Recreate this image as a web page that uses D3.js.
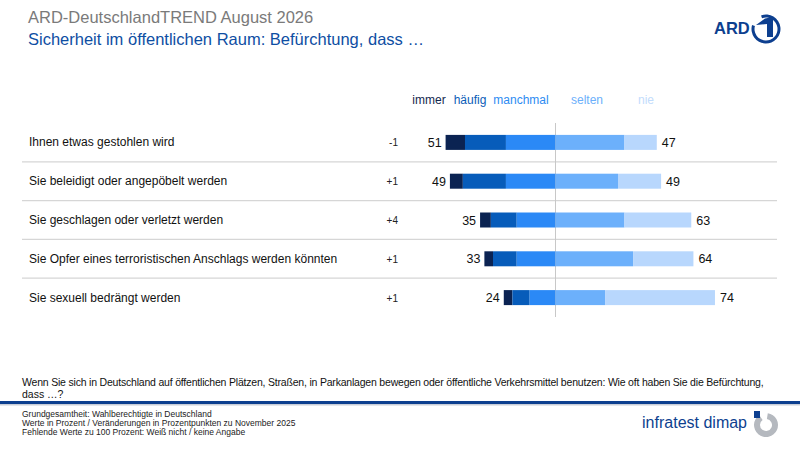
<!DOCTYPE html>
<html>
<head>
<meta charset="utf-8">
<script src="https://cdn.jsdelivr.net/npm/d3@7"></script>
<style>
  body { margin: 0; background: #fff; }
  svg { font-family: "Liberation Sans", Arial, sans-serif; }
</style>
</head>
<body>
<div id="chart"></div>
<script>
const categories = [
    "Ihnen etwas gestohlen wird",
    "Sie beleidigt oder angepöbelt werden",
    "Sie geschlagen oder verletzt werden",
    "Sie Opfer eines terroristischen Anschlags werden könnten",
    "Sie sexuell bedrängt werden"
];
const changes = ["-1", "+1", "+4", "+1", "+1"];
const immer = [9, 6, 5, 4, 4];
const haeufig = [19, 20, 12, 11, 8];
const manchmal = [23, 23, 18, 18, 12];
const selten = [32, 29, 32, 36, 23];
const nie = [15, 20, 31, 28, 51];
const leftTotals = [51, 49, 35, 33, 24];
const rightTotals = [47, 49, 63, 64, 74];
const seriesNames = ["immer", "häufig", "manchmal", "selten", "nie"];

const barColors = ['#0b2352', '#075cba', '#2b89f6', '#6cb0fb', '#b8d7fd'];
const legendColors = ['#14284e', '#0b5db8', '#2d8bf2', '#6cb0fb', '#c2dcfc'];

const svgWidth = 800;
const svgHeight = 450;

const svg = d3.select('#chart')
    .append('svg')
    .attr('width', svgWidth)
    .attr('height', svgHeight);

// scales
const xScale = d3.scaleLinear()
    .domain([-100, 100])
    .range([340, 771]);

const yScale = d3.scaleBand()
    .domain(d3.range(categories.length))
    .range([123, 317]);

const barH = 15;

// title
svg.append('text')
    .attr('x', 28).attr('y', 23)
    .style('font-size', '16.5px')
    .style('fill', '#7a7a7a')
    .text('ARD-DeutschlandTREND August 2026');

svg.append('text')
    .attr('x', 28).attr('y', 45)
    .style('font-size', '16.5px')
    .style('fill', '#0e4ea3')
    .text('Sicherheit im öffentlichen Raum: Befürchtung, dass …');

// ARD logo
const ard = svg.append('g');
ard.append('text')
    .attr('x', 714).attr('y', 34)
    .style('font-size', '16.5px')
    .style('font-weight', 'bold')
    .style('fill', '#0d3f8f')
    .text('ARD');
ard.append('path')
    .attr('d', d3.arc()({innerRadius: 11.5, outerRadius: 14.5, startAngle: -0.35, endAngle: 2 * Math.PI - 1.3}))
    .attr('transform', 'translate(766,29)')
    .attr('fill', '#0d3f8f');
ard.append('path')
    .attr('d', 'M756,25 L765,18.5 L773,17 L773,37 L767,37 L767,24 Z')
    .attr('fill', '#0d3f8f');

// legend
const legendX = [429, 470, 521, 587, 646];
svg.selectAll('.legend')
    .data(seriesNames)
    .enter().append('text')
    .attr('class', 'legend')
    .attr('x', (d, i) => legendX[i])
    .attr('y', 104)
    .attr('text-anchor', 'middle')
    .style('font-size', '12px')
    .style('fill', (d, i) => legendColors[i])
    .text(d => d);

// separators
svg.selectAll('.sep')
    .data(d3.range(1, categories.length))
    .enter().append('line')
    .attr('x1', 22).attr('x2', 777)
    .attr('y1', d => yScale(d)).attr('y2', d => yScale(d))
    .style('stroke', '#d6d6d6')
    .style('stroke-width', 1.3);

// center line
svg.append('line')
    .attr('x1', xScale(0)).attr('x2', xScale(0))
    .attr('y1', yScale.range()[0]).attr('y2', yScale.range()[1])
    .style('stroke', '#c8c8c8')
    .style('stroke-width', 1);

// build stacked segments
const segments = [];
categories.forEach((c, i) => {
    const vals = [immer[i], haeufig[i], manchmal[i], selten[i], nie[i]];
    let start = -(immer[i] + haeufig[i] + manchmal[i]);
    vals.forEach((v, k) => {
        segments.push({ row: i, k: k, x0: start, x1: start + v });
        start += v;
    });
});

svg.selectAll('.seg')
    .data(segments)
    .enter().append('rect')
    .attr('class', 'seg')
    .attr('x', d => xScale(d.x0))
    .attr('y', d => yScale(d.row) + yScale.bandwidth() / 2 - barH / 2)
    .attr('width', d => xScale(d.x1) - xScale(d.x0))
    .attr('height', barH)
    .attr('fill', d => barColors[d.k]);

// category labels
svg.selectAll('.cat')
    .data(categories)
    .enter().append('text')
    .attr('x', 29)
    .attr('y', (d, i) => yScale(i) + yScale.bandwidth() / 2 + 4)
    .style('font-size', '12px')
    .style('fill', '#111')
    .text(d => d);

// changes
svg.selectAll('.chg')
    .data(changes)
    .enter().append('text')
    .attr('x', 398)
    .attr('y', (d, i) => yScale(i) + yScale.bandwidth() / 2 + 4)
    .attr('text-anchor', 'end')
    .style('font-size', '10px')
    .style('fill', '#222')
    .text(d => d);

// totals
svg.selectAll('.lt')
    .data(leftTotals)
    .enter().append('text')
    .attr('x', d => xScale(-d) - 4)
    .attr('y', (d, i) => yScale(i) + yScale.bandwidth() / 2 + 4.5)
    .attr('text-anchor', 'end')
    .style('font-size', '12.5px')
    .style('fill', '#111')
    .text(d => d);

svg.selectAll('.rt')
    .data(rightTotals)
    .enter().append('text')
    .attr('x', d => xScale(d) + 5)
    .attr('y', (d, i) => yScale(i) + yScale.bandwidth() / 2 + 4.5)
    .style('font-size', '12.5px')
    .style('fill', '#111')
    .text(d => d);

// question
svg.append('text')
    .attr('x', 22).attr('y', 386)
    .style('font-size', '10.5px')
    .style('fill', '#111')
    .style('letter-spacing', '-0.2px')
    .text('Wenn Sie sich in Deutschland auf öffentlichen Plätzen, Straßen, in Parkanlagen bewegen oder öffentliche Verkehrsmittel benutzen: Wie oft haben Sie die Befürchtung,');
svg.append('text')
    .attr('x', 22).attr('y', 397.5)
    .style('font-size', '10.5px')
    .style('fill', '#111')
    .text('dass …?');

// footer rules
svg.append('rect')
    .attr('x', 0).attr('y', 401)
    .attr('width', svgWidth).attr('height', 3)
    .attr('fill', '#0d3f8f');
svg.append('rect')
    .attr('x', 0).attr('y', 404)
    .attr('width', svgWidth).attr('height', 1.5)
    .attr('fill', '#c9ced8');

const footLines = [
    'Grundgesamtheit: Wahlberechtigte in Deutschland',
    'Werte in Prozent / Veränderungen in Prozentpunkten zu November 2025',
    'Fehlende Werte zu 100 Prozent: Weiß nicht / keine Angabe'
];
svg.selectAll('.foot')
    .data(footLines)
    .enter().append('text')
    .attr('x', 22)
    .attr('y', (d, i) => 417 + i * 9)
    .style('font-size', '8.5px')
    .style('fill', '#222')
    .text(d => d);

// infratest dimap logo
svg.append('text')
    .attr('x', 747).attr('y', 428)
    .attr('text-anchor', 'end')
    .style('font-size', '16px')
    .style('fill', '#0d3f8f')
    .style('font-family', '"Liberation Sans Narrow", "Liberation Sans", sans-serif')
    .text('infratest dimap');
svg.append('path')
    .attr('d', d3.arc()({innerRadius: 6, outerRadius: 12, startAngle: 0.15, endAngle: Math.PI * 2 - 0.6}))
    .attr('transform', 'translate(766,425)')
    .attr('fill', '#b5b9bf');
svg.append('rect')
    .attr('x', 754).attr('y', 411)
    .attr('width', 6).attr('height', 7)
    .attr('fill', '#0d3f8f');
</script>
</body>
</html>
